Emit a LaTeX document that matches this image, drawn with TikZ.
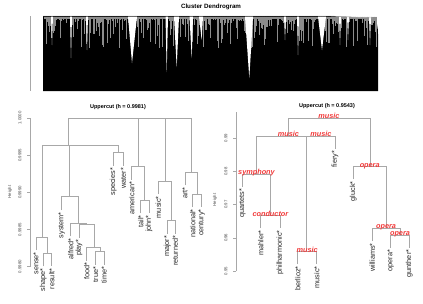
\documentclass[tikz,border=0pt]{standalone}
\usepackage{fontspec}
\setmainfont{Liberation Sans}
\usetikzlibrary{positioning}
\definecolor{TagRed}{HTML}{F23A3A}
\definecolor{BranchGray}{HTML}{A8A8A8}

\begin{document}
\begin{tikzpicture}[
    x=1pt, y=-1pt,
    branch/.style={draw=BranchGray, line width=0.8pt},
    axisline/.style={draw=BranchGray, line width=0.6pt},
    leaf/.style={rotate=90, anchor=east, inner sep=0pt,
        font=\fontsize{7.3}{8}\selectfont, text=black!85},
    tag/.style={anchor=base, inner sep=0pt,
        font=\fontsize{7.3}{8}\selectfont\bfseries\itshape, text=TagRed},
    ticklab/.style={rotate=90, inner sep=0pt,
        font=\fontsize{4.3}{5}\selectfont, text=black!70},
    ttl/.style={inner sep=0pt, font=\fontsize{5.5}{6}\selectfont\bfseries}
  ]
    \useasboundingbox (0,0) rectangle (423,303);
    \fill[white] (0,0) rectangle (423,303);

    % top panel: full tree, drawn as a dense block
    \node[ttl, font=\fontsize{6.2}{7}\selectfont\bfseries] (main) at (211,7) {Cluster Dendrogram};
    \draw[axisline] (30,16) -- (30,91);
    \fill[black] (43,16) -- (330,16) -- (373,18) .. controls (377,20) and (378,28) .. (378,34)
        -- (378,91) -- (43,91) -- cycle;
    \pgfmathsetseed{42}
    \foreach \x in {44,44.7,...,376} {
        \pgfmathsetmacro\len{2+30*rnd^4}
        \draw[white!55!black, line width=0.25pt] (\x,16.5) -- ++(0,\len);
    }
    \foreach \a/\b/\c/\d in {128/137/132/63, 165.5/168/166.7/72, 174/179/176.7/67, 189.5/193/191.7/58,
        199/203/201.7/40, 245/253/249.3/78, 318/326/322/50, 70/72/71/58, 86/88/87/50,
        51/53/52/45, 297/299/298/55, 284/286/285/40, 339/341/340/45, 347/349/348/40, 369/371/370/45} {
        \fill[white] (\a,16.5) -- (\b,16.5) -- (\c,\d) -- cycle;
    }
    \draw[white!70!black, line width=0.4pt] (43,16) -- (330,16) -- (373,18);

    % left cut
    \node[ttl] (ttlA) at (118,107) {Uppercut (h = 0.9981)};
    \draw[axisline] (30,118) -- (30,266.7);
    \foreach \v/\y in {1.0000/118, 0.9995/155.2, 0.9990/192.4, 0.9985/229.5, 0.9980/266.7} {
        \draw[axisline] (30,\y) -- (27,\y);
        \node[ticklab] at (20,\y) {\v};
    }
    \node[ticklab] (hgtA) at (10,192) {Height};

    \draw[branch] (68,145) |- (191,118) -- (191,172.3);
    \draw[branch] (138,118) -- (138,166.7);
    \draw[branch] (165,118) -- (165,181);
    \draw[branch] (42,237) |- (118.3,145) -- (118.3,152.7);
    \draw[branch] (69.3,145) -- (69.3,196.7);
    \draw[branch] (36,250) |- (47.5,237) -- (47.5,253.3);
    \draw[branch] (43.3,266.3) |- (51.7,253.3) -- (51.7,266.3);
    \draw[branch] (61.7,210) |- (78.3,196.7) -- (78.3,223.3);
    \draw[branch] (70.7,236.3) |- (86.5,223.3) -- (86.5,224.5);
    \draw[branch] (79,237.5) |- (94,224.5) -- (94,247.7);
    \draw[branch] (86.7,260.7) |- (100,247.7) -- (100,251.7);
    \draw[branch] (95.7,264.7) |- (104,251.7) -- (104,264.7);
    \draw[branch] (113.3,165.7) |- (123.3,152.7) -- (123.3,165.7);
    \draw[branch] (131.7,179.7) |- (144.3,166.7) -- (144.3,200);
    \draw[branch] (140.7,213) |- (149,200) -- (149,213);
    \draw[branch] (158.3,194) |- (171.3,181) -- (171.3,220.7);
    \draw[branch] (167.3,233.7) |- (175.3,220.7) -- (175.3,233.7);
    \draw[branch] (185,185.3) |- (197.2,172.3) -- (197.2,194);
    \draw[branch] (192.7,207) |- (201.7,194) -- (201.7,207);

    \node[leaf] (sense) at (36,252) {sense*};
    \node[leaf] (shape) at (43.3,268.3) {shape*};
    \node[leaf] (result) at (51.7,268.3) {result*};
    \node[leaf] (system) at (61.7,212) {system*};
    \node[leaf] (alfred) at (70.7,238.3) {alfred*};
    \node[leaf] (play) at (79,239.5) {play*};
    \node[leaf] (food) at (86.7,262.7) {food*};
    \node[leaf] (true) at (95.7,266.7) {true*};
    \node[leaf] (time) at (104,266.7) {time*};
    \node[leaf] (species) at (113.3,167.7) {species*};
    \node[leaf] (water) at (123.3,167.7) {water*};
    \node[leaf] (american) at (131.7,181.7) {american*};
    \node[leaf] (tail) at (140.7,215) {tail*};
    \node[leaf] (john) at (149,215) {john*};
    \node[leaf] (musicA) at (158.3,196) {music*};
    \node[leaf] (major) at (167.3,235.7) {major*};
    \node[leaf] (returned) at (175.3,235.7) {returned*};
    \node[leaf] (art) at (185,187.3) {art*};
    \node[leaf] (national) at (192.7,209) {national*};
    \node[leaf] (century) at (201.7,209) {century*};

    % right cut
    \node[ttl] (ttlB) at (327,106) {Uppercut (h = 0.9543)};
    \draw[axisline] (236,112) -- (236,271);
    \foreach \v/\y in {0.99/138.2, 0.98/171.4, 0.97/204.6, 0.96/237.8, 0.95/271} {
        \draw[axisline] (236,\y) -- (233,\y);
        \node[ticklab] at (226,\y) {\v};
    }
    \node[ticklab] (hgtB) at (215,200) {Height};

    \draw[branch] (288.3,136) |- (370,118.3) -- (370,166.7);
    \draw[branch] (256,174) |- (335,136) -- (335,148.5);
    \draw[branch] (306.7,136) -- (306.7,251.7);
    \draw[branch] (242.3,186.5) |- (270.7,174) -- (270.7,215.7);
    \draw[branch] (260.7,228) |- (280,215.7) -- (280,228);
    \draw[branch] (297.7,264) |- (316.7,251.7) -- (316.7,264);
    \draw[branch] (353.3,179) |- (386,166.7) -- (386,228.3);
    \draw[branch] (372.3,241) |- (400,228.3) -- (400,235);
    \draw[branch] (390.7,247.5) |- (409.3,235) -- (409.3,247.5);

    \node[tag] (tagroot) at (329,118.8) {music};
    \node[tag] (tagmus) at (288.4,136.5) {music};
    \node[tag] (tagfiery) at (320.9,136.5) {music};
    \node[tag] (tagsym) at (256.5,174.5) {symphony};
    \node[tag] (tagcond) at (270.4,216.2) {conductor};
    \node[tag] (tagber) at (307.2,252.2) {music};
    \node[tag] (tagop) at (369.7,167.2) {opera};
    \node[tag] (tagopw) at (386.1,228.8) {opera};
    \node[tag] (tagopg) at (400,235.5) {opera};

    \node[leaf] (fiery) at (335,150.5) {fiery*};
    \node[leaf] (quartets) at (242.3,188.5) {quartets*};
    \node[leaf] (mahler) at (260.7,230.2) {mahler*};
    \node[leaf] (philharmonic) at (280,230.2) {philharmonic*};
    \node[leaf] (berlioz) at (297.7,266.2) {berlioz*};
    \node[leaf] (musicB) at (316.7,266.2) {music*};
    \node[leaf] (gluck) at (353.3,181.2) {gluck*};
    \node[leaf] (williams) at (372.3,243) {williams*};
    \node[leaf] (opera) at (390.7,249.5) {opera*};
    \node[leaf] (gunther) at (409.3,249.5) {gunther*};
\end{tikzpicture}
\end{document}
